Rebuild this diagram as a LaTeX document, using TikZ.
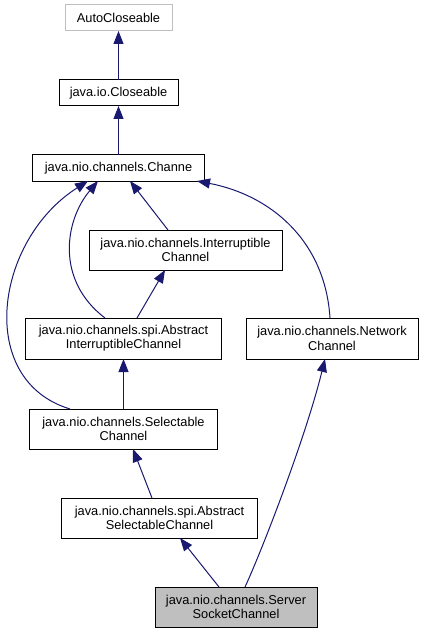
\documentclass[tikz,border=0pt]{standalone}
\usepackage{fontspec}
\setmainfont{Liberation Sans}
\usetikzlibrary{arrows.meta}
\definecolor{edgeblue}{RGB}{25,25,112}
\definecolor{greyborder}{RGB}{191,191,191}
\definecolor{greyfill}{RGB}{191,191,191}
\begin{document}
\begin{tikzpicture}[x=1bp,y=-1bp,
  box/.style={draw=black,fill=white,line width=1bp,inner sep=0pt,outer sep=0pt,align=center,
    font=\fontsize{12.8bp}{14.3bp}\selectfont},
  edge/.style={draw=edgeblue,line width=1bp,-{Triangle[length=13bp,width=10bp,fill=edgeblue]}}]
\useasboundingbox (0,0) rectangle (423,633);
\node[box,draw=greyborder,minimum width=107bp,minimum height=26bp] (auto) at (118.5,18) {AutoCloseable};
\node[box,minimum width=119bp,minimum height=26bp] (close) at (118.5,93) {java.io.Closeable};
\node[box,minimum width=171bp,minimum height=26bp] (chan) at (118.5,168) {java.nio.channels.Channe};
\node[box,minimum width=193bp,minimum height=40bp] (intr) at (185.5,250) {java.nio.channels.Interruptible\\Channel};
\node[box,minimum width=195bp,minimum height=41bp] (absint) at (123.5,338.5) {java.nio.channels.spi.Abstract\\InterruptibleChannel};
\node[box,minimum width=172bp,minimum height=41bp] (net) at (332,338.5) {java.nio.channels.Network\\Channel};
\node[box,minimum width=187bp,minimum height=40bp] (sel) at (123.5,429) {java.nio.channels.Selectable\\Channel};
\node[box,minimum width=195bp,minimum height=40bp] (abssel) at (159.5,518) {java.nio.channels.spi.Abstract\\SelectableChannel};
\node[box,fill=greyfill,minimum width=162bp,minimum height=40bp] (srv) at (236,607) {java.nio.channels.Server\\SocketChannel};

\draw[edge] (close.north) -- (auto.south);
\draw[edge] (chan.north) -- (close.south);
\draw[edge] ([xshift=79bp]intr.north west) -- ([xshift=97bp]chan.south west);
\draw[edge] ([xshift=79bp]absint.north west) .. controls +(-50,-38) and +(-33,39) .. ([xshift=65bp]chan.south west);
\draw[edge] ([xshift=111bp]absint.north west) -- ([xshift=76bp]intr.south west);
\draw[edge] ([xshift=40bp]sel.north west) .. controls +(-95,-29) and +(-93,59) .. ([xshift=55bp]chan.south west);
\draw[edge] (sel.north) -- (absint.south);
\draw[edge] ([xshift=84bp]net.north west) .. controls +(-5,-78) and +(73,14) .. ([xshift=164bp]chan.south west);
\draw[edge] ([xshift=90bp]abssel.north west) -- ([xshift=103bp]sel.south west);
\draw[edge] ([xshift=64bp]srv.north west) -- ([xshift=118bp]abssel.south west);
\draw[edge] ([xshift=90bp]srv.north west) .. controls +(15,-32) and +(-20,81) .. ([xshift=79bp]net.south west);
\end{tikzpicture}
\end{document}
